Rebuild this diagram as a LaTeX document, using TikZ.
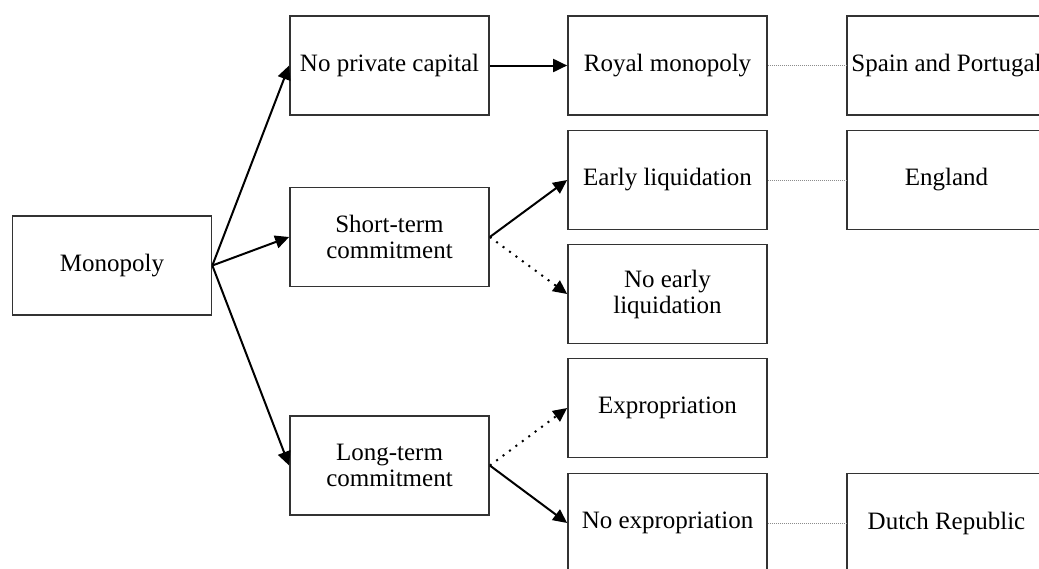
\documentclass[tikz,border=0pt]{standalone}
\usepackage{fontspec}
\setmainfont{Liberation Serif}
\usetikzlibrary{arrows.meta}
\begin{document}
\begin{tikzpicture}[x=1pt,y=-1pt,
  box/.style={draw=black!80, line width=1.7pt, minimum width=199pt, minimum height=99pt,
    inner sep=0pt, align=center, font=\fontsize{25}{26}\selectfont, fill=white},
  arr/.style={line width=2pt, -{Triangle[length=14pt,width=13pt]}},
  darr/.style={arr, dash pattern=on 2pt off 6pt},
  link/.style={draw=black!45, line width=0.8pt, dash pattern=on 1pt off 1pt}]
\useasboundingbox (0,0) rectangle (1039,568);
\node[box] (mono) at (112,265.5) {Monopoly};
\node[box] (npc) at (389.5,65.5) {No private capital};
\node[box] (st) at (389.5,237) {Short-term\\commitment};
\node[box] (lt) at (389.5,465.5) {Long-term\\commitment};
\node[box] (rm) at (667.5,65.5) {Royal monopoly};
\node[box] (el) at (667.5,180) {Early liquidation};
\node[box] (nel) at (667.5,294) {No early\\liquidation};
\node[box] (ex) at (667.5,408) {Expropriation};
\node[box] (nex) at (667.5,523) {No expropriation};
\node[box] (sp) at (946.5,65.5) {Spain and Portugal};
\node[box] (en) at (946.5,180) {England};
\node[box] (dr) at (946.5,523) {Dutch Republic};
\draw[arr] (mono.east) -- (npc.west);
\draw[arr] (mono.east) -- (st.west);
\draw[arr] (mono.east) -- (lt.west);
\draw[arr] (npc.east) -- (rm.west);
\draw[arr] (st.east) -- (el.west);
\draw[darr] (st.east) -- (nel.west);
\draw[darr] (lt.east) -- (ex.west);
\draw[arr] (lt.east) -- (nex.west);
\draw[link] (rm.east) -- (sp.west);
\draw[link] (el.east) -- (en.west);
\draw[link] (nex.east) -- (dr.west);
\end{tikzpicture}
\end{document}
